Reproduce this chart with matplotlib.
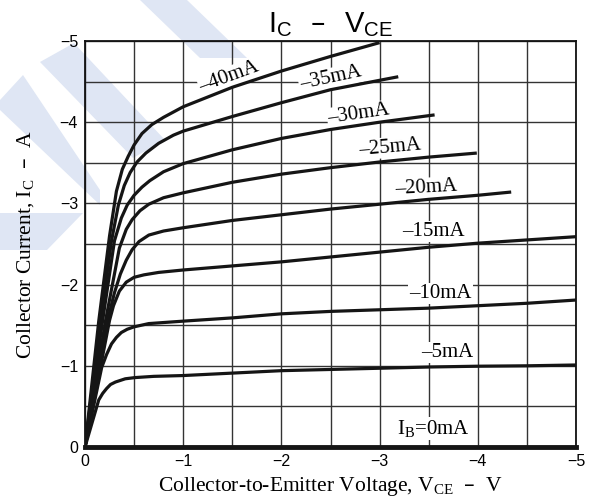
import numpy as np
import matplotlib
matplotlib.use("Agg")
import matplotlib.pyplot as plt
from matplotlib.ticker import MultipleLocator
from matplotlib.patches import Polygon

vce_40 = [0, 0.14, 0.25, 0.32, 0.38, 0.44, 0.50, 0.58, 0.68, 0.80, 1.0, 1.5, 2.0, 2.5, 3.0]
ic_40 = [0, 1.55, 2.60, 3.15, 3.42, 3.58, 3.72, 3.86, 3.97, 4.06, 4.19, 4.43, 4.63, 4.81, 4.98]

vce_35 = [0, 0.16, 0.27, 0.34, 0.40, 0.46, 0.53, 0.62, 0.75, 0.90, 1.0, 1.5, 2.0, 2.5, 3.19]
ic_35 = [0, 1.56, 2.54, 2.98, 3.22, 3.38, 3.51, 3.62, 3.74, 3.84, 3.89, 4.07, 4.24, 4.40, 4.56]

vce_30 = [0, 0.18, 0.30, 0.37, 0.43, 0.50, 0.58, 0.66, 0.80, 1.0, 1.5, 2.0, 2.5, 3.0, 3.56]
ic_30 = [0, 1.56, 2.54, 2.82, 2.98, 3.10, 3.20, 3.28, 3.39, 3.49, 3.66, 3.80, 3.91, 4.00, 4.09]

vce_25 = [0, 0.21, 0.35, 0.42, 0.48, 0.56, 0.65, 0.80, 1.0, 1.5, 2.0, 2.5, 3.0, 3.5, 3.99]
ic_25 = [0, 1.56, 2.45, 2.68, 2.80, 2.91, 2.99, 3.07, 3.13, 3.26, 3.36, 3.44, 3.51, 3.57, 3.62]

vce_20 = [0, 0.23, 0.30, 0.36, 0.42, 0.48, 0.55, 0.65, 0.80, 1.0, 1.5, 2.0, 2.5, 3.0, 3.5, 4.0, 4.34]
ic_20 = [0, 1.56, 1.90, 2.13, 2.30, 2.43, 2.53, 2.61, 2.66, 2.70, 2.79, 2.86, 2.93, 2.99, 3.05, 3.10, 3.14]

vce_15 = [0, 0.25, 0.29, 0.35, 0.42, 0.50, 0.60, 0.75, 1.0, 1.5, 2.0, 2.5, 3.0, 3.5, 4.0, 4.5, 5.0]
ic_15 = [0, 1.56, 1.74, 1.92, 2.03, 2.09, 2.12, 2.15, 2.18, 2.23, 2.28, 2.34, 2.40, 2.46, 2.51, 2.55, 2.59]

vce_10 = [0, 0.17, 0.22, 0.27, 0.32, 0.37, 0.43, 0.50, 0.65, 1.0, 1.5, 2.0, 2.5, 3.0, 3.5, 4.0, 4.5, 5.0]
ic_10 = [0, 0.98, 1.14, 1.27, 1.35, 1.41, 1.45, 1.48, 1.52, 1.55, 1.59, 1.64, 1.67, 1.69, 1.71, 1.74, 1.77, 1.81]

vce_5 = [0, 0.07, 0.14, 0.18, 0.22, 0.26, 0.31, 0.41, 0.51, 0.70, 1.0, 1.5, 2.0, 2.5, 3.0, 3.5, 4.0, 4.5, 5.0]
ic_5 = [0, 0.29, 0.58, 0.66, 0.72, 0.77, 0.80, 0.84, 0.855, 0.87, 0.88, 0.91, 0.94, 0.955, 0.97, 0.985, 0.995, 1.0, 1.01]

vce_0 = [0, 5.0]
ic_0 = [0, 0]

curves = [(vce_40, ic_40), (vce_35, ic_35), (vce_30, ic_30), (vce_25, ic_25),
          (vce_20, ic_20), (vce_15, ic_15), (vce_10, ic_10), (vce_5, ic_5)]

# curve labels: text, vce, ic, rotation
labels = [
    ("–40mA", 1.47, 4.56, 20),
    ("–35mA", 2.50, 4.54, 12),
    ("–30mA", 2.79, 4.10, 8),
    ("–25mA", 3.11, 3.69, 5),
    ("–20mA", 3.47, 3.19, 3),
    ("–15mA", 3.55, 2.65, 0),
    ("–10mA", 3.62, 1.89, 0),
    ("–5mA", 3.69, 1.16, 0),
    (r"$\mathregular{I_B}$=0mA", 3.55, 0.23, 0),
]

# light blue watermark bands, in pixels of the 593x501 picture
watermark = [
    [(140, 0), (187, 0), (247, 58), (200, 58)],
    [(40, 62), (74, 43), (165, 140), (133, 158)],
    [(0, 100), (23, 75), (100, 190), (100, 205), (0, 110)],
    [(0, 213), (83, 213), (47, 250), (0, 250)],
]

W, H = 593, 501
plt.rcParams["font.family"] = "sans-serif"
plt.rcParams["font.sans-serif"] = ["Liberation Sans"]
plt.rcParams["axes.unicode_minus"] = True

fig = plt.figure(figsize=(W / 100, H / 100), dpi=100)
for pts in watermark:
    fig.patches.append(Polygon([(x / W, 1 - y / H) for x, y in pts], closed=True,
                               transform=fig.transFigure, facecolor="#dfe6f4",
                               edgecolor="none", zorder=-1))

ax = fig.add_axes([85 / W, 1 - 447 / H, 491 / W, 406 / H])
ax.set_facecolor("none")

for v, i in curves:
    ax.plot(-np.array(v), -np.array(i), color="#151515", lw=2.3, zorder=3,
            solid_capstyle="butt")
ax.plot(-np.array(vce_0), -np.array(ic_0), color="#151515", lw=3.5, zorder=4, clip_on=False)

for txt, v, i, rot in labels:
    ax.text(-v, -i, txt, family="Liberation Serif", fontsize=15, ha="center", va="center",
            rotation=rot, zorder=2,
            bbox=dict(facecolor="white", edgecolor="none", pad=0.6))

ax.set_xlim(0, -5)
ax.set_ylim(0, -5)
ax.xaxis.set_major_locator(MultipleLocator(1))
ax.yaxis.set_major_locator(MultipleLocator(1))
ax.xaxis.set_minor_locator(MultipleLocator(0.5))
ax.yaxis.set_minor_locator(MultipleLocator(0.5))
ax.grid(True, which="both", color="#333333", lw=1.0, zorder=1)
ax.set_axisbelow(True)
ax.tick_params(which="both", length=0, labelsize=11.5, pad=5)
for s in ax.spines.values():
    s.set_linewidth(1.3)
    s.set_color("#111111")

ax.set_title(r"$\mathregular{I_C\ \ –\ \ V_{CE}}$", fontsize=21, pad=6)
ax.set_xlabel(r"Collector-to-Emitter Voltage, $\mathregular{V_{CE}}$  –  V",
              family="Liberation Serif", fontsize=15.5, labelpad=4)
ax.set_ylabel(r"Collector Current, $\mathregular{I_C}$  –  A",
              family="Liberation Serif", fontsize=15.5, labelpad=17)

fig.savefig("out.png", dpi=100)
